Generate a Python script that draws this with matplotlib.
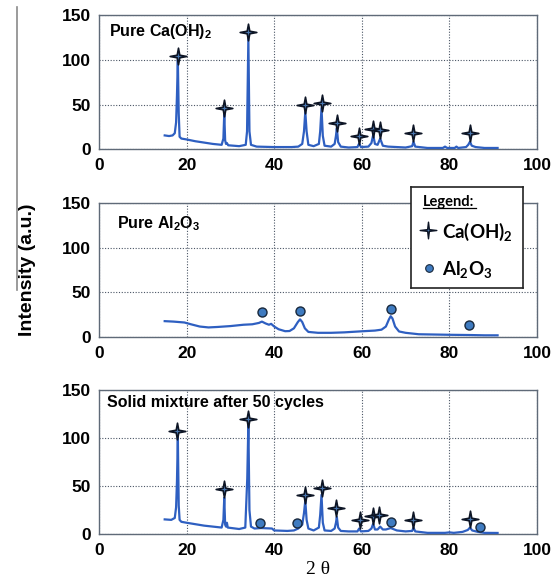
import matplotlib
matplotlib.use("Agg")
import matplotlib.pyplot as plt
from matplotlib.path import Path
from matplotlib.lines import Line2D

# ---- datos ----
# Ca(OH)2 puro
ca_x = [15.0, 16.0, 16.8, 17.3, 17.6, 17.8, 18.0, 18.2, 18.4, 18.8, 20, 22, 24, 26,
        28.0, 28.4, 28.6, 28.8, 29.0, 29.2, 29.5, 32, 33.5, 33.8, 34.1, 34.35, 34.7,
        36, 40, 44, 45.5, 46.4, 46.8, 47.1, 47.4, 47.8, 49.0, 50.2, 50.5, 50.8, 51.1,
        51.5, 53.0, 53.8, 54.1, 54.3, 54.6, 55.2, 57, 59.0, 59.4, 59.8, 61.5, 62.2,
        62.6, 63.0, 63.6, 64.2, 64.8, 66, 70, 71.5, 71.8, 72.2, 75, 78.5, 79.0, 79.5,
        81.2, 81.6, 82, 83.8, 84.3, 84.7, 85.1, 86, 88, 91]
ca_y = [15.5, 14.8, 15.5, 18, 30, 60, 100, 40, 14, 12, 11, 9, 7.5, 6,
        5, 12, 40, 10, 6, 7, 4.5, 3.5, 5, 20, 124, 20, 5,
        3, 2.5, 2.5, 3, 6, 20, 42, 20, 5, 3.5, 6, 20, 46, 15,
        4, 3, 6, 15, 23.5, 8, 3, 2, 2.5, 6.5, 2.5, 3, 7,
        16, 6, 5, 12, 4, 3, 2, 3.5, 8.5, 3, 1.5, 1.5, 3, 1.5,
        1.5, 3, 1.5, 2.5, 5, 8.5, 4, 2.5, 1.5, 1.5]

# Al2O3 puro
al_x = [15.0, 17, 19.5, 21, 23, 25, 27, 30, 33, 35, 36.5, 37.2, 38, 38.8, 39.3, 40,
        41, 42.5, 43.5, 44.5, 45.4, 45.9, 46.4, 47.0, 47.8, 50, 53, 56, 60, 63, 64.5,
        65.5, 66.2, 66.6, 67.0, 67.6, 68.5, 70, 73, 80, 85, 88, 91]
al_y = [18, 17.5, 16.5, 14.5, 12, 11, 11.5, 12.5, 14, 14.5, 16, 17.5, 15.5, 14, 15, 12,
        9, 6.8, 7, 10, 17, 20, 17, 10, 6, 5, 5, 5.5, 6.7, 7.5, 8.5,
        12, 20, 23.5, 21, 12, 6.5, 5, 3.4, 2.8, 2.5, 2.2, 2.2]

# mezcla solida tras 50 ciclos
mix_x = [15.0, 16.5, 17.3, 17.6, 17.8, 18.0, 18.2, 18.4, 18.8, 20, 22, 24, 26,
         28.0, 28.4, 28.6, 28.8, 29.0, 29.2, 29.4, 32, 33.4, 33.85, 34.1, 34.35, 34.7,
         35.5, 37, 39.5, 40, 43, 44.5, 45.5, 46.4, 46.8, 47.1, 47.4, 47.8, 49, 50.2,
         50.5, 50.8, 51.1, 51.5, 53, 53.8, 54.1, 54.3, 54.6, 55.2, 57, 59, 59.4, 59.8,
         61.5, 62.2, 62.6, 63, 63.6, 64.2, 64.8, 65.5, 66.6, 68, 70, 71.5, 71.8, 72.2,
         75, 79, 80, 81, 83, 84.2, 84.7, 85.2, 86.5, 88, 91]
mix_y = [15.5, 15, 17, 28, 55, 101, 30, 15, 13, 12, 10.5, 9, 8,
         7, 15, 38, 10, 8, 12, 7, 5.5, 7, 58, 115, 25, 8,
         6, 6.5, 6, 4, 3.5, 4, 6, 10, 22, 35, 15, 6, 4, 7,
         20, 41, 12, 4, 3.5, 6, 12, 18, 7, 3.5, 3, 3, 6, 3,
         3.5, 6, 11, 5, 5, 8, 5, 5, 6.5, 4, 3, 3.5, 7, 3,
         1.5, 1.5, 2, 1.5, 2.5, 4.5, 7, 4, 2.5, 1.5, 1.4]

# marcadores de fase
ca_star_x = [18.0, 28.6, 34.1, 47.1, 50.8, 54.3, 59.4, 62.6, 64.2, 71.8, 84.7]
ca_star_y = [104, 46, 131, 49, 52, 29.5, 14.5, 23, 21, 18, 18]
al_dot_x = [37.2, 45.9, 66.6, 84.4]
al_dot_y = [28, 29.5, 32, 13.5]
mix_star_x = [17.9, 28.6, 34.1, 47.0, 50.8, 54.2, 59.5, 62.5, 64.0, 71.7, 84.7]
mix_star_y = [107.5, 47.5, 119.5, 40.5, 48, 27.5, 14.6, 18.7, 19.8, 15.3, 16.3]
mix_dot_x = [36.7, 45.2, 66.6, 87.1]
mix_dot_y = [12, 12, 12.8, 7.6]

x_ticks = [0, 20, 40, 60, 80, 100]
y_ticks = [0, 50, 100, 150]

LINE_COLOR = "#2e5fc1"
STAR = Path.unit_regular_star(4, 0.22)

plt.rcParams["mathtext.fontset"] = "custom"
plt.rcParams["mathtext.rm"] = "Liberation Sans:bold"
plt.rcParams["mathtext.sf"] = "Lato:bold"
plt.rcParams["mathtext.default"] = "rm"


def panel(fig, rect, x, y, title, title_pos, stars=None, dots=None):
    ax = fig.add_axes(rect)
    ax.plot(x, y, color=LINE_COLOR, lw=1.6, zorder=3)
    if stars is not None:
        ax.plot(stars[0], stars[1], ls="none", marker=STAR, ms=12,
                mfc="#4a78b0", mec="#0d1525", mew=1.2, zorder=4)
    if dots is not None:
        ax.plot(dots[0], dots[1], ls="none", marker="o", ms=6.5,
                mfc="#3f7bc0", mec="#18283c", mew=1.0, zorder=4)
    ax.set_xlim(0, 100)
    ax.set_ylim(0, 150)
    ax.set_xticks(x_ticks)
    ax.set_yticks(y_ticks)
    ax.tick_params(length=0, pad=6, labelsize=12.5)
    for lab in ax.get_xticklabels() + ax.get_yticklabels():
        lab.set_fontweight("bold")
        lab.set_fontfamily("Liberation Sans")
    ax.grid(True, color="#4a5565", ls=(0, (1, 1.5)), lw=0.8)
    for s in ax.spines.values():
        s.set_color("#5f6a78")
        s.set_linewidth(1.0)
    ax.text(title_pos[0], title_pos[1], title, transform=ax.transAxes,
            fontsize=11.5, fontweight="bold", family="Liberation Sans",
            va="baseline", ha="left", zorder=5)
    return ax


def leyenda(fig):
    lg = fig.add_axes([411 / 559, 1 - 288 / 581, 112 / 559, 101 / 581], zorder=10)
    lg.set_xlim(0, 112)
    lg.set_ylim(101, 0)
    lg.set_xticks([])
    lg.set_yticks([])
    lg.set_facecolor("white")
    for s in lg.spines.values():
        s.set_color("#222222")
        s.set_linewidth(1.2)
    lg.text(11.7, 15, "Legend:", fontsize=10.5, fontweight="bold", family="Lato",
            va="center", ha="left")
    lg.plot([11.7, 65], [20.5, 20.5], color="black", lw=0.9)
    lg.plot([17.3], [43], ls="none", marker=Path.unit_regular_star(4, 0.15), ms=12,
            mfc="#4a78b0", mec="#0d1525", mew=1.0)
    lg.text(30.7, 45, r"$\mathsf{Ca(OH)_2}$", fontsize=13.5, va="center", ha="left")
    lg.plot([18], [81.3], ls="none", marker="o", ms=5.5,
            mfc="#3f7bc0", mec="#18283c", mew=0.8)
    lg.text(30.7, 83, r"$\mathsf{Al_2O_3}$", fontsize=13.5, va="center", ha="left")


def main():
    fig = plt.figure(figsize=(5.59, 5.81), dpi=100)
    left, width = 99 / 559, 438 / 559
    panel(fig, [left, 1 - 149.3 / 581, width, 134.3 / 581], ca_x, ca_y,
          "Pure Ca(OH)$_2$", (0.023, 0.843), stars=(ca_star_x, ca_star_y))
    panel(fig, [left, 1 - 337.3 / 581, width, 134.6 / 581], al_x, al_y,
          "Pure Al$_2$O$_3$", (0.041, 0.81), dots=(al_dot_x, al_dot_y))
    panel(fig, [left, 1 - 534.3 / 581, width, 144.3 / 581], mix_x, mix_y,
          "Solid mixture after 50 cycles", (0.018, 0.88),
          stars=(mix_star_x, mix_star_y), dots=(mix_dot_x, mix_dot_y))
    leyenda(fig)

    fig.text(27 / 559, 1 - 270 / 581, "Intensity (a.u.)", rotation=90,
             fontsize=14, fontweight="bold", family="Liberation Sans",
             ha="center", va="center")
    fig.text(318 / 559, 1 - 570 / 581, "2 \u03b8", fontsize=14,
             family="Liberation Serif", ha="center", va="center")
    fig.add_artist(Line2D([16.5 / 559, 16.5 / 559], [1 - 7 / 581, 1 - 290 / 581],
                          color="#8a8a8a", lw=1.2))

    fig.savefig("out.png", dpi=100)
    plt.close(fig)


if __name__ == "__main__":
    main()
